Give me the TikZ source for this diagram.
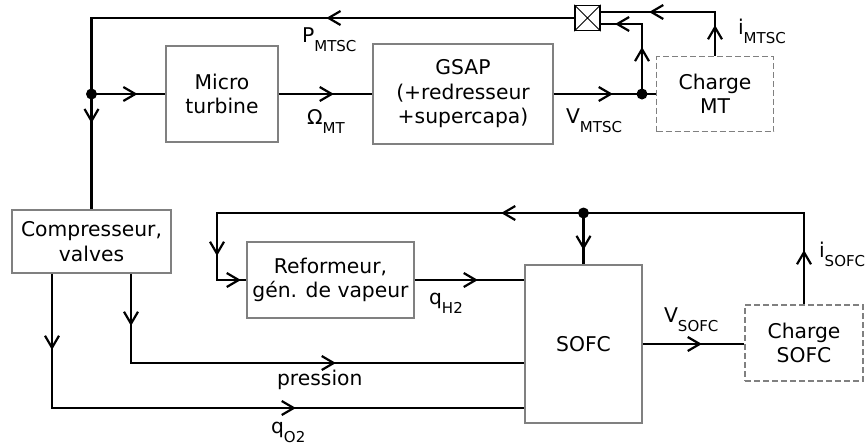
\documentclass[tikz,border=0pt]{standalone}
\usepackage{fontspec}
\setmainfont{DejaVu Sans}
\usetikzlibrary{arrows.meta, decorations.markings}
\definecolor{cgrey}{HTML}{808080}
\newcommand{\lsub}[1]{\raisebox{-9pt}{\fontsize{15}{15}\selectfont #1}}
\tikzset{
  every picture/.style={font=\fontsize{20.3}{24.5}\selectfont, line width=2.2pt},
  blk/.style={draw=cgrey, line width=1.8pt, align=center, inner sep=0pt},
  lbox/.style={blk, dash pattern=on 6pt off 3pt},
  wire/.style={draw=black, line width=2.2pt},
  arr/.style={postaction={decorate, decoration={markings,
      mark=at position #1pt with {\arrow{Straight Barb[length=12pt, width=14pt]}}}}},
  jdot/.style={circle, fill=black, inner sep=0pt, minimum size=11pt},
  lbl/.style={anchor=base west, inner sep=0pt},
}
\begin{document}
\begin{tikzpicture}[x=1pt, y=-1pt]
  \useasboundingbox (0,0) rectangle (868,445);
  % micro turbine branch
  \node[blk, minimum width=112pt, minimum height=96pt] (mt) at (222,94) {Micro\\turbine};
  \node[blk, minimum width=180pt, minimum height=100pt] (gsap) at (463,94) {GSAP\\(+redresseur\\+supercapa)};
  \node[lbox, minimum width=117pt, minimum height=75pt] (cmt) at (715,94) {Charge\\MT};
  \node[draw=black, line width=1.3pt, minimum size=25pt, inner sep=0pt] (crs) at (587.5,18) {};
  \draw[line width=1pt] (crs.north west) -- (crs.south east) (crs.north east) -- (crs.south west);
  \node[jdot] (j1) at (91.5,94) {};
  \node[jdot] (j2) at (642,94) {};
  % SOFC branch
  \node[blk, minimum width=159pt, minimum height=63pt] (comp) at (91.5,241.5) {Compresseur,\\valves};
  \node[blk, minimum width=167pt, minimum height=76pt] (ref) at (330.5,280) {Reformeur,\\gén. de vapeur};
  \node[blk, minimum width=117pt, minimum height=158pt] (sofc) at (583.5,344) {SOFC};
  \node[lbox, minimum width=118pt, minimum height=76pt] (csofc) at (804,343) {Charge\\SOFC};
  \node[jdot] (j3) at (583.5,213) {};
  \coordinate (c1) at (217,213);
  % connectors, top
  \draw[wire, arr=248, arr=588] (crs.west) -| (comp.north);
  \draw[wire, arr=46] (j1.center) -- (mt.west);
  \draw[wire, arr=55] (mt.east) -- (gsap.west);
  \draw[wire, arr=59] (gsap.east) -- (cmt.west);
  \draw[wire, arr=30.5, arr=109.5] (cmt.north) |- ([yshift=6pt]crs.east);
  \draw[wire, arr=47, arr=97] (j2.center) |- ([yshift=-6pt]crs.east);
  % connectors, bottom
  \draw[wire, arr=54, arr=394, arr=721, arr=769] (csofc.north) |- (c1) |- (ref.west);
  \draw[wire, arr=37] (j3.center) -- (sofc.north);
  \draw[wire, arr=63] (ref.east) -- (ref.east -| sofc.west);
  \draw[wire, arr=59] (sofc.east) -- (sofc.east -| csofc.west);
  \draw[wire, arr=76, arr=378] ([xshift=-39.5pt]comp.south) |- ([yshift=-64pt]sofc.west);
  \draw[wire, arr=52, arr=294] ([xshift=39.5pt]comp.south) |- ([yshift=-19pt]sofc.west);
  % labels
  \node[lbl] (pmt) at (301,42) {P\lsub{MTSC}};
  \node[lbl] (omt) at (306,124) {Ω\lsub{MT}};
  \node[lbl] (vmt) at (565,123) {V\lsub{MTSC}};
  \node[lbl] (imt) at (737,34) {i\lsub{MTSC}};
  \node[lbl] (qh2) at (428,304) {q\lsub{H2}};
  \node[lbl] (pre) at (276,385.5) {pression};
  \node[lbl] (qo2) at (270,433) {q\lsub{O2}};
  \node[lbl] (vsofc) at (663,322) {V\lsub{SOFC}};
  \node[lbl] (isofc) at (818,257) {i\lsub{SOFC}};
\end{tikzpicture}
\end{document}
